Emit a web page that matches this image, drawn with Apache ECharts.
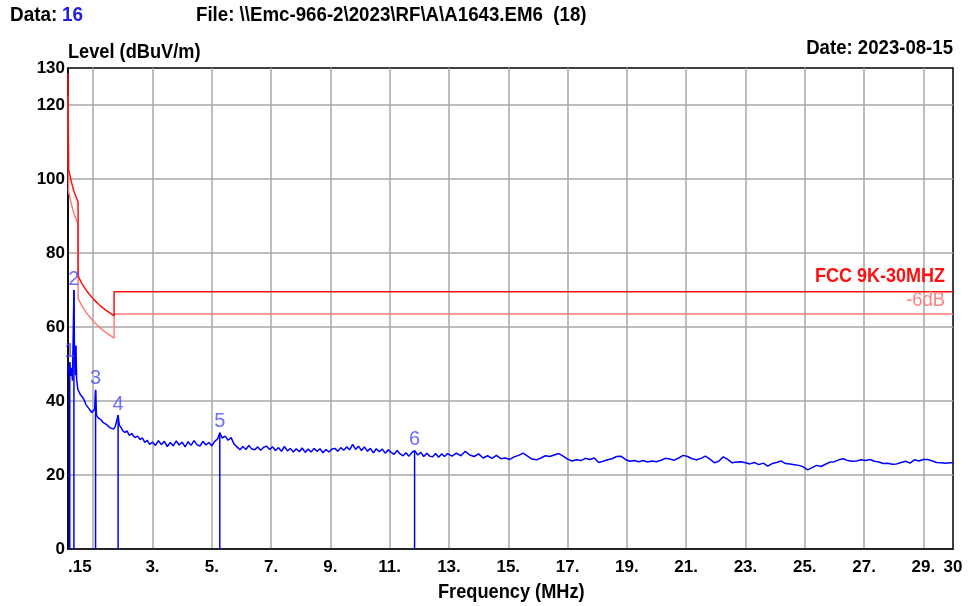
<!DOCTYPE html>
<html>
<head>
<meta charset="utf-8">
<script src="https://cdn.jsdelivr.net/npm/echarts@6/dist/echarts.min.js"></script>
<style>
html,body{margin:0;padding:0;background:#fff;}
#c{width:969px;height:606px;}
</style>
</head>
<body>
<div id="c"></div>
<script>
// ---- data ----
var traceFreq = [0.15,0.18,0.21,0.24,0.27,0.30,0.33,0.35,0.37,0.40,0.42,0.44,0.48,0.52,0.56,0.60,0.65,0.70,0.75,0.80,0.85,0.90,0.95,1.00,1.05,1.08,1.11,1.16,1.22,1.28,1.33,1.38,1.44,1.50,1.56,1.62,1.68,1.74,1.80,1.84,1.88,1.94,2.00,2.07,2.14,2.22,2.30,2.40,2.50,2.58,2.66,2.74,2.82,2.90,3.00,
3.1,3.2,3.3,3.4,3.5,3.6,3.7,3.8,3.9,4.0,4.1,4.2,4.3,4.4,4.5,4.6,4.7,4.8,4.9,5.0,5.1,5.2,5.27,5.35,5.45,5.55,5.65,5.75,5.85,5.95,6.05,6.15,6.25,6.35,6.45,6.55,6.65,6.75,6.85,6.95,7.05,7.15,7.25,7.35,7.45,7.55,7.65,7.75,7.85,7.95,8.05,8.15,8.25,8.35,8.45,8.55,8.65,8.75,8.85,8.95,9.05,9.15,9.25,9.35,9.45,9.55,9.65,9.75,9.85,9.95,10.05,10.15,10.25,10.35,10.45,10.55,10.65,10.75,10.85,10.95,11.05,11.15,11.25,11.35,11.45,11.55,11.65,11.75,11.84,11.95,12.05,12.15,12.25,12.35,12.45,12.55,12.65,12.75,12.85,12.95,
13.1,13.25,13.4,13.55,13.7,13.85,14.0,14.15,14.3,14.45,14.6,14.75,14.9,15.05,15.2,15.35,15.5,15.65,15.8,15.95,16.1,16.25,16.4,16.55,16.7,16.85,17.0,17.15,17.3,17.45,17.6,17.75,17.9,18.05,18.2,18.35,18.5,18.65,18.8,18.95,19.1,19.25,19.4,19.55,19.7,19.85,20.0,20.15,20.3,20.45,20.6,20.75,20.9,21.05,21.2,21.35,21.5,21.65,21.8,21.95,22.1,22.25,22.4,22.55,22.7,22.85,23.0,23.15,23.3,23.45,23.6,23.75,23.9,24.05,24.2,24.35,24.5,24.65,24.8,24.95,25.1,25.25,25.4,25.55,25.7,25.85,26.0,26.15,26.3,26.45,26.6,26.75,26.9,27.05,27.2,27.35,27.5,27.65,27.8,27.95,28.1,28.25,28.4,28.55,28.7,28.85,29.0,29.15,29.3,29.45,29.6,29.75,29.9,30.0];
var traceLevel = [49.5,47.5,50.5,46.8,49.0,45.5,60.0,70.0,52.0,47.0,55.0,46.0,43.2,42.5,41.8,41.5,40.9,40.2,39.1,38.9,38.0,37.8,36.9,36.4,37.8,43.0,36.2,35.5,35.1,34.8,34.2,34.5,33.7,33.9,32.8,33.2,32.4,33.0,32.7,36.2,33.5,32.8,31.9,31.5,31.9,30.7,31.2,30.1,30.5,29.6,30.0,28.8,29.4,28.3,28.9,
28.0,29.3,28.2,29.1,27.7,28.8,27.9,29.2,28.1,28.9,27.6,29.0,28.0,29.3,28.2,27.8,29.1,28.1,28.8,27.9,29.1,29.8,31.4,30.0,30.5,29.4,30.1,28.4,27.6,26.8,27.7,26.9,28.0,27.0,26.8,27.6,26.7,27.5,27.8,26.9,27.6,26.6,27.4,26.4,27.7,26.5,27.2,26.2,27.1,26.3,27.3,26.1,27.0,26.2,27.2,26.4,27.1,26.0,26.9,26.2,27.0,27.2,26.4,27.4,26.7,27.6,26.8,28.3,26.9,27.8,26.6,27.6,26.4,27.2,26.0,27.1,26.3,27.0,25.9,26.8,26.1,25.6,26.6,25.7,25.2,26.0,25.1,26.1,26.6,25.4,26.1,25.0,25.9,25.1,24.9,25.8,24.8,25.7,25.0,25.8,
25.1,25.9,25.2,26.4,25.4,25.0,25.7,24.6,25.2,24.5,25.3,24.4,24.6,24.2,24.9,25.3,25.9,25.1,24.3,24.1,24.6,25.2,25.0,25.4,25.8,25.1,24.3,23.8,24.1,23.9,24.5,24.2,24.6,23.4,23.7,24.1,24.4,25.0,25.1,24.2,23.7,23.9,23.6,23.9,23.5,23.8,23.6,24.0,24.5,24.3,24.0,24.6,25.3,25.0,24.4,24.1,24.5,25.1,24.3,23.3,23.7,24.9,24.2,23.3,23.5,23.6,23.3,23.0,23.4,22.8,23.2,22.4,23.1,23.4,23.8,23.1,23.0,22.8,22.6,22.2,21.4,22.0,22.6,22.3,22.9,23.5,23.6,24.1,24.4,23.9,23.7,23.8,24.1,23.9,24.2,23.7,23.5,23.1,23.2,22.9,23.0,23.4,23.7,23.2,24.1,23.8,24.2,24.2,23.8,23.4,23.3,23.2,23.3,23.3];

var limitFreq  = [0.15, 0.17, 0.2, 0.25, 0.3, 0.35, 0.4, 0.49, 0.49, 0.6, 0.8, 1.0, 1.2, 1.4, 1.705, 1.705, 30];
var limitLevel = [128.5, 102.5, 101.6, 99.7, 98.1, 96.7, 95.6, 93.8, 73.8, 72.0, 69.5, 67.6, 66.0, 64.7, 63.0, 69.5, 69.5];
var marginLevel = [122.5, 96.5, 95.6, 93.7, 92.1, 90.7, 89.6, 87.8, 67.8, 66.0, 63.5, 61.6, 60.0, 58.7, 57.0, 63.5, 63.5];

var markerNames = ['1','2','3','4','5','6'];
var markerFreq  = [0.21, 0.35, 1.08, 1.84, 5.27, 11.84];
var markerLevel = [50.5, 70.0, 43.0, 36.2, 31.4, 26.6];

var xTicks = [1,3,5,7,9,11,13,15,17,19,21,23,25,27,29];
var xLabelPos = [0.55,3,5,7,9,11,13,15,17,19,21,23,25,27,29,30];
var yTicks = [0,20,40,60,80,100,120];
var yLabels = [0,20,40,60,80,100,120,130];

// ---- build ----
function zip(a,b){ var r=[]; for(var i=0;i<a.length;i++) r.push([a[i],b[i]]); return r; }
var markerLines = [];
for (var i=0;i<markerFreq.length;i++){
  markerLines.push([markerFreq[i],0]);
  markerLines.push([markerFreq[i],markerLevel[i]]);
  markerLines.push([markerFreq[i],'-']);
}
var markerPts = markerFreq.map(function(f,i){ return {value:[f,markerLevel[i]], name:markerNames[i]}; });

var FONT = '"Liberation Sans",Arial,sans-serif';
function txt(x, y, s, size, color, align, sx, weight){
  return {type:'text', x:x, y:y, scaleX:sx, z:100,
    style:{text:s, font:(weight||'bold')+' '+size+'px '+FONT, fill:color, textAlign:align, textVerticalAlign:'middle'}};
}
var chart = echarts.init(document.getElementById('c'), null, {renderer:'canvas'});
chart.setOption({
  animation:false,
  backgroundColor:'#fff',
  grid:{left:68, right:16, top:68, bottom:57, show:true, borderColor:'#000', borderWidth:1.5, backgroundColor:'transparent'},
  xAxis:{
    type:'value', min:0.15, max:30,
    axisLine:{show:true, lineStyle:{color:'#000', width:1.5}},
    axisTick:{show:false, customValues:xTicks},
    splitLine:{show:true, lineStyle:{color:'#a8a8a8', width:1.5}},
    axisLabel:{customValues:xLabelPos, color:'#000', fontFamily:FONT, fontWeight:'bold', fontSize:17, margin:10,
      formatter:function(v){ if(v<1) return '.15'; if(v===30) return '30'; return v+'.'; }}
  },
  yAxis:{
    type:'value', min:0, max:130,
    axisLine:{show:true, lineStyle:{color:'#000', width:1.5}},
    axisTick:{show:false, customValues:yTicks},
    splitLine:{show:true, lineStyle:{color:'#a8a8a8', width:1.5}},
    axisLabel:{customValues:yLabels, color:'#000', fontFamily:FONT, fontWeight:'bold', fontSize:17, margin:3}
  },
  series:[
    {type:'line', data:zip(limitFreq,marginLevel), symbol:'none', lineStyle:{color:'#ff7b7b', width:1.5}, z:2},
    {type:'line', data:zip(limitFreq,limitLevel), symbol:'none', lineStyle:{color:'#ff1010', width:1.5}, z:3},
    {type:'line', data:markerLines, symbol:'none', connectNulls:false, lineStyle:{color:'#0000ff', width:1.5}, z:4},
    {type:'line', data:zip(traceFreq,traceLevel), symbol:'none', lineStyle:{color:'#0000ff', width:1.5}, z:5},
    {type:'scatter', data:markerPts, symbolSize:0, z:6,
      label:{show:true, position:'top', distance:1, formatter:'{b}', color:'#4848ff', fontFamily:FONT, fontSize:20}}
  ],
  graphic:[
    txt(10, 15, 'Data:', 21, '#000', 'left', 0.9),
    txt(62, 15, '16', 21, '#1f1fe0', 'left', 0.9),
    txt(196, 15, 'File: \\\\Emc-966-2\\2023\\RF\\A\\A1643.EM6  (18)', 21, '#000', 'left', 0.89),
    txt(68, 52, 'Level (dBuV/m)', 20, '#000', 'left', 0.91),
    txt(953, 48, 'Date: 2023-08-15', 20, '#000', 'right', 0.93),
    txt(438, 592, 'Frequency (MHz)', 20, '#000', 'left', 0.91),
    txt(945, 276, 'FCC 9K-30MHZ', 20, '#ff1010', 'right', 0.9),
    txt(945, 300, '-6dB', 20, '#ff8080', 'right', 0.92, 'normal')
  ]
});
</script>
</body>
</html>
